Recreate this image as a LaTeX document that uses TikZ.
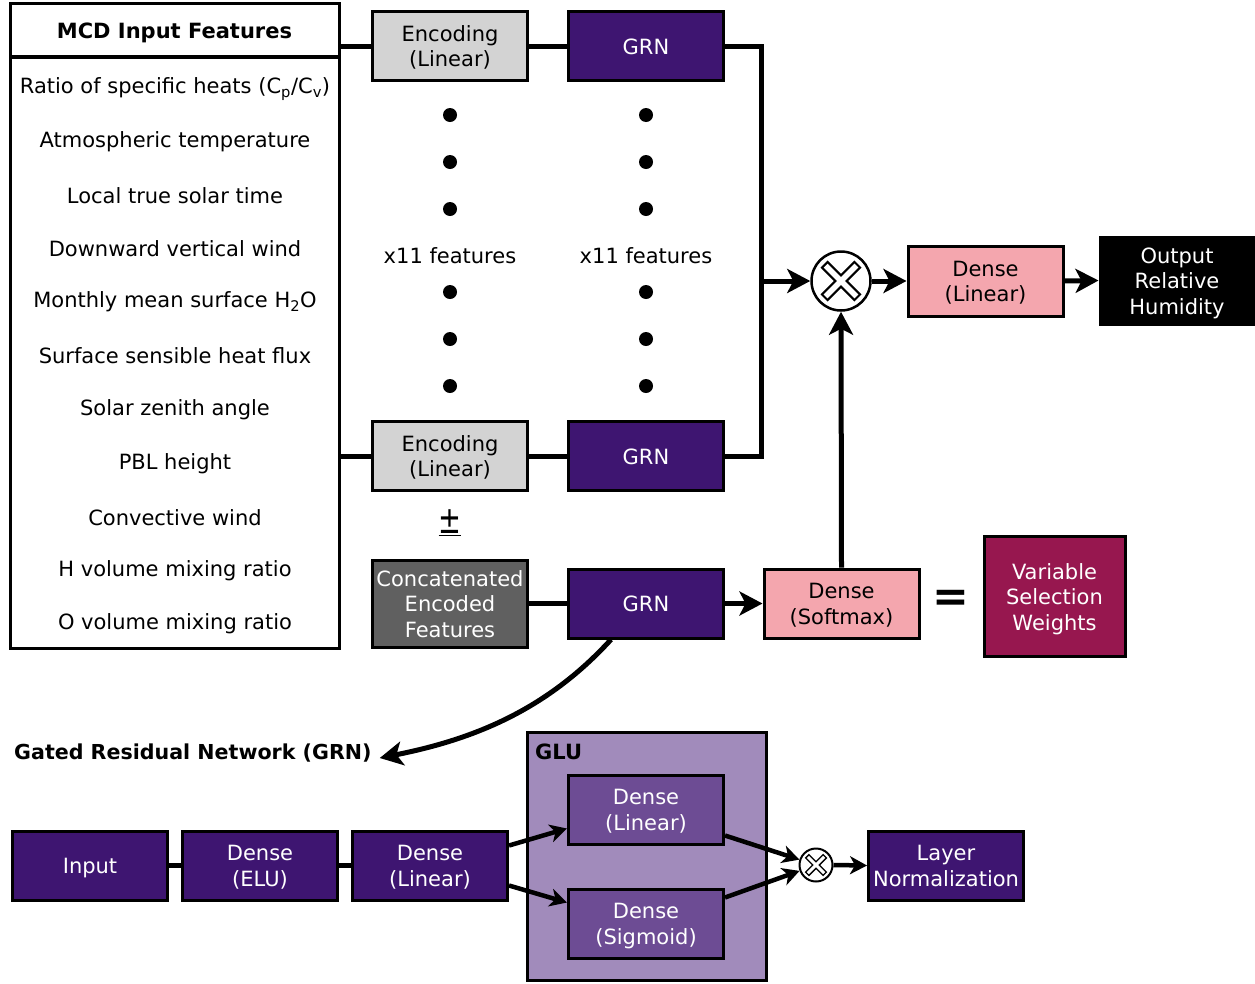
\documentclass[tikz,border=0pt]{standalone}
\usepackage{fontspec}
\setmainfont{DejaVu Sans}
\usetikzlibrary{arrows.meta,calc}
\definecolor{grnc}{HTML}{3E1571}
\definecolor{innc}{HTML}{6D4C94}
\definecolor{glubg}{HTML}{A18BBB}
\definecolor{pinkc}{HTML}{F4A6AE}
\definecolor{maroonc}{HTML}{97174F}
\definecolor{encc}{HTML}{D3D3D3}
\definecolor{catc}{HTML}{606060}
\newcommand{\bt}[1]{\raisebox{-3pt}[\height][\depth]{\begin{tabular}{@{}c@{}}#1\end{tabular}}}
\begin{document}
\begin{tikzpicture}[x=1pt,y=-1pt,
  every node/.style={font=\fontsize{21}{25.5}\selectfont},
  box/.style={draw=black, line width=3pt, minimum width=155pt, minimum height=69pt, align=center, inner sep=1pt},
  grnbox/.style={box, fill=grnc, text=white},
  encbox/.style={box, fill=encc},
  pinkbox/.style={box, fill=pinkc},
  innbox/.style={box, fill=innc, text=white},
  conn/.style={line width=5pt},
  arr/.style={conn, -{Stealth[length=23pt,width=24pt,inset=6pt]}},
  sarr/.style={line width=4.5pt, -{Stealth[length=17pt,width=18pt,inset=5pt]}},
  item/.style={inner sep=0pt},
  dotc/.style={fill=black},
]
\useasboundingbox (0,0) rectangle (1255,983);

% MCD input features table
\node[draw, line width=3pt, minimum width=329pt, minimum height=592pt, inner sep=0pt] (mcd) at (174.5,352.5) {};
\node[draw, line width=3pt, minimum width=329pt, minimum height=54pt, inner sep=0pt] (hdr) at (174.5,30.5) {\fontsize{21}{26}\selectfont\bfseries\bt{MCD Input Features}};
\node[item] (f1) at (175,89) {Ratio of specific heats (C\textsubscript{p}/C\textsubscript{v})};
\node[item] (f2) at (175,142) {Atmospheric temperature};
\node[item] (f3) at (175,196) {Local true solar time};
\node[item] (f4) at (175,249) {Downward vertical wind};
\node[item] (f5) at (175,302) {Monthly mean surface H\textsubscript{2}O};
\node[item] (f6) at (175,356) {Surface sensible heat flux};
\node[item] (f7) at (175,410) {Solar zenith angle};
\node[item] (f8) at (175,464) {PBL height};
\node[item] (f9) at (175,518) {Convective wind};
\node[item] (f10) at (175,571) {H volume mixing ratio};
\node[item] (f11) at (175,624) {O volume mixing ratio};

% encoding and GRN columns
\node[encbox] (enc1) at (450,46) {\bt{Encoding\\(Linear)}};
\node[encbox] (enc2) at (450,456) {\bt{Encoding\\(Linear)}};
\node[grnbox] (grn1) at (646,46) {\bt{GRN}};
\node[grnbox] (grn2) at (646,456) {\bt{GRN}};

\foreach \y in {115,162,209,292,339,386} {
  \fill[dotc] (450,\y) circle (7pt);
  \fill[dotc] (646,\y) circle (7pt);
}
\node (x11a) at (450,256) {x11 features};
\node (x11b) at (646,256) {x11 features};

\draw[conn] (enc1.west -| mcd.east) -- (enc1.west);
\draw[conn] (enc2.west -| mcd.east) -- (enc2.west);
\draw[conn] (enc1) -- (grn1);
\draw[conn] (enc2) -- (grn2);

\coordinate (jn) at (761,281);
\draw[conn] (grn1.east) -| (jn);
\draw[conn] (grn2.east) -| (jn);

% multiply
\node[circle, draw, line width=2.5pt, fill=white, minimum size=59pt, inner sep=0pt] (mul) at (841,281) {};
\foreach \a in {45,135} {
  \draw[line width=10pt, line cap=rect] ($(mul.center)+(\a:19)$) -- ($(mul.center)+(\a+180:19)$);
}
\foreach \a in {45,135} {
  \draw[white, line width=5.5pt, line cap=rect] ($(mul.center)+(\a:19)$) -- ($(mul.center)+(\a+180:19)$);
}
\draw[arr] (jn) -- (mul.west);

\node[pinkbox, minimum height=70pt] (dlin) at (985.5,281) {\bt{Dense\\(Linear)}};
\node[box, fill=black, text=white, minimum width=154pt, minimum height=87pt] (out) at (1177,280.5) {\bt{Output\\Relative\\Humidity}};
\draw[arr] (mul.east) -- (dlin.west);
\draw[arr] (dlin.east) -- (out.west);

% concatenated branch
\node (pm) at (450,523) {\scalebox{0.72}[1]{\fontsize{38}{40}\selectfont\underline{±}}};
\node[box, fill=catc, text=white, minimum height=87pt] (cat) at (450,603.5) {\bt{Concatenated\\Encoded\\Features}};
\node[grnbox] (grn3) at (646,603.5) {\bt{GRN}};
\node[pinkbox] (soft) at (841.5,603.5) {\bt{Dense\\(Softmax)}};
\node (eq) at (951,601) {\fontsize{44}{44}\selectfont\bfseries =};
\node[box, fill=maroonc, text=white, minimum width=141pt, minimum height=120pt] (vsw) at (1054.5,596.5) {\bt{Variable\\Selection\\Weights}};
\draw[conn] (cat) -- (grn3);
\draw[arr] (grn3.east) -- (soft.west);
\draw[arr] (soft.north) -- (mul.south);

% GRN detail
\node[anchor=west, inner sep=0pt] (grnlbl) at (14,753) {\fontsize{20.6}{25}\selectfont\bfseries Gated Residual Network (GRN)};
\coordinate (cs) at ($(grn3.south)+(-35,0)$);
\coordinate (ce) at ($(grnlbl.east)+(8,5)$);
\draw[arr] (cs) .. controls (545,712) and (470,740) .. (ce);

\node[draw=black, line width=3pt, fill=glubg, minimum width=239pt, minimum height=248pt, inner sep=0pt] (glu) at (646.5,856) {};
\node[anchor=west, inner sep=0pt] (glul) at (535,752) {\bfseries GLU};

\node[grnbox] (inp) at (90,865.5) {\bt{Input}};
\node[grnbox] (delu) at (260,865.5) {\bt{Dense\\(ELU)}};
\node[grnbox] (dl3) at (430,865.5) {\bt{Dense\\(Linear)}};
\node[innbox] (glin) at (646,809.5) {\bt{Dense\\(Linear)}};
\node[innbox] (gsig) at (646,923.5) {\bt{Dense\\(Sigmoid)}};
\node[grnbox] (ln) at (946,865.5) {\bt{Layer\\Normalization}};

\draw[conn] (inp) -- (delu);
\draw[conn] (delu) -- (dl3);
\draw[sarr] ($(dl3.east)+(0,-20)$) -- ($(glin.west)+(0,19)$);
\draw[sarr] ($(dl3.east)+(0,20)$) -- ($(gsig.west)+(0,-21)$);

\node[circle, draw, line width=2pt, fill=white, minimum size=33pt, inner sep=0pt] (mul2) at (816,865) {};
\foreach \a in {45,135} {
  \draw[line width=6pt, line cap=rect] ($(mul2.center)+(\a:10)$) -- ($(mul2.center)+(\a+180:10)$);
}
\foreach \a in {45,135} {
  \draw[white, line width=3pt, line cap=rect] ($(mul2.center)+(\a:10)$) -- ($(mul2.center)+(\a+180:10)$);
}
\draw[sarr] ($(glin.east)+(0,26)$) -- (mul2);
\draw[sarr] ($(gsig.east)+(0,-26)$) -- (mul2);
\draw[sarr] (mul2.east) -- (ln.west);
\end{tikzpicture}
\end{document}
